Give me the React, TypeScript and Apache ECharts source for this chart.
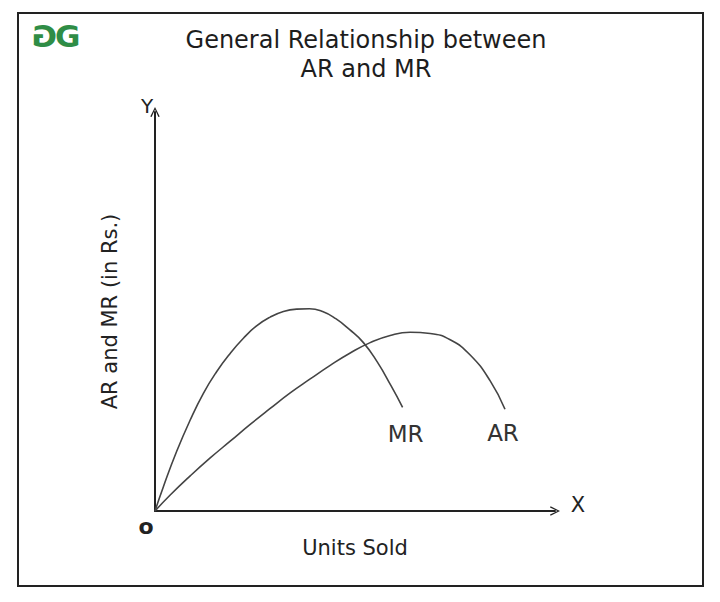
import React, { useEffect, useRef } from "react";
import * as echarts from "echarts";

const mrX = [0, 2.1, 5.4, 8.8, 12.1, 15.4, 18.8, 22.1, 25.4, 28.8, 32.1, 35.4, 38.6, 41.9, 45.2, 48.6, 52.1, 55.6, 59.0, 61.9];
const mrY = [0, 6.1, 14.9, 22.8, 29.5, 34.9, 39.5, 43.3, 46.4, 48.6, 50.0, 50.6, 50.7, 50.0, 48.2, 45.5, 42.2, 37.3, 31.4, 26.0];
const arX = [0, 3.8, 8.8, 13.8, 18.8, 23.8, 28.8, 33.8, 38.8, 43.8, 48.8, 53.8, 58.8, 63.8, 68.8, 73.8, 78.8, 83.8, 87.5];
const arY = [0, 4.0, 8.8, 13.3, 17.5, 21.7, 25.7, 29.6, 33.1, 36.5, 39.6, 42.2, 44.0, 44.8, 44.5, 42.9, 39.1, 32.6, 25.5];
const seriesNames = ["MR", "AR"];
const titleLines = ["General Relationship between", "AR and MR"];
const xAxisTitle = "Units Sold";
const yAxisTitle = "AR and MR (in Rs.)";

const FONT = "'DejaVu Sans', 'Open Sans', sans-serif";
const ARROW = "path://M0,10 L5,0 L10,10 L8.6,10.6 L5,2.6 L1.4,10.6 Z";

export default function App() {
  const ref = useRef<HTMLDivElement>(null);
  useEffect(() => {
    if (!ref.current) return;
    const chart = echarts.init(ref.current, null, { renderer: "svg" });
    const mr = mrX.map((x, i) => [x, mrY[i]]);
    const ar = arX.map((x, i) => [x, arY[i]]);
    const axisBase = {
      type: "value" as const,
      min: 0,
      max: 100,
      axisTick: { show: false },
      axisLabel: { show: false },
      splitLine: { show: false },
      axisLine: {
        show: true,
        symbol: ["none", ARROW],
        symbolSize: [13, 10],
        lineStyle: { color: "#222", width: 2 },
      },
      nameTextStyle: { fontFamily: FONT, fontSize: 21, color: "#222" },
    };
    const lineSeries = (name: string, data: number[][], off: number[]) => ({
      name,
      type: "line",
      data,
      smooth: 0.5,
      showSymbol: false,
      lineStyle: { color: "#444", width: 1.6 },
      endLabel: {
        show: true,
        formatter: name,
        fontFamily: FONT,
        fontSize: 23,
        color: "#333",
        align: "center",
        verticalAlign: "middle",
        offset: off,
      },
    });
    chart.setOption({
      animation: false,
      backgroundColor: "#fff",
      title: {
        text: titleLines.join("\n"),
        left: 361,
        textAlign: "center",
        top: 20,
        textStyle: { fontFamily: FONT, fontSize: 24, fontWeight: "normal", color: "#1d1d1d", lineHeight: 29 },
      },
      grid: { left: 155, right: 165, top: 112, bottom: 91 },
      xAxis: {
        ...axisBase,
        name: xAxisTitle,
        nameLocation: "middle",
        nameGap: 26,
      },
      yAxis: {
        ...axisBase,
        name: yAxisTitle,
        nameLocation: "middle",
        nameGap: 35,
      },
      series: [lineSeries(seriesNames[0], mr, [-5, 27]), lineSeries(seriesNames[1], ar, [-10, 24])],
      graphic: [
        {
          type: "rect",
          shape: { x: 18, y: 13, width: 685, height: 573 },
          style: { fill: "none", stroke: "#222", lineWidth: 2 },
          silent: true,
        },
        {
          type: "text",
          x: 57,
          y: 36,
          scaleX: -1,
          style: { text: "G", fontFamily: "'DejaVu Sans', sans-serif", fontWeight: "bold", fontSize: 31, fill: "#2f8d46", align: "left", verticalAlign: "middle" },
        },
        {
          type: "text",
          x: 55,
          y: 36,
          style: { text: "G", fontFamily: "'DejaVu Sans', sans-serif", fontWeight: "bold", fontSize: 31, fill: "#2f8d46", align: "left", verticalAlign: "middle" },
        },
        {
          type: "text",
          x: 147,
          y: 106,
          style: { text: "Y", fontFamily: FONT, fontSize: 20, fill: "#222", align: "center", verticalAlign: "middle" },
        },
        {
          type: "text",
          x: 578,
          y: 505,
          style: { text: "X", fontFamily: FONT, fontSize: 21, fill: "#222", align: "center", verticalAlign: "middle" },
        },
        {
          type: "text",
          x: 146,
          y: 526,
          style: { text: "o", fontFamily: FONT, fontWeight: "bold", fontSize: 22, fill: "#222", align: "center", verticalAlign: "middle" },
        },
      ],
    });
    return () => chart.dispose();
  }, []);
  return (
    <div
      ref={ref}
      style={{ position: "absolute", left: 0, top: 0, width: 720, height: 602, background: "#fff" }}
    />
  );
}
